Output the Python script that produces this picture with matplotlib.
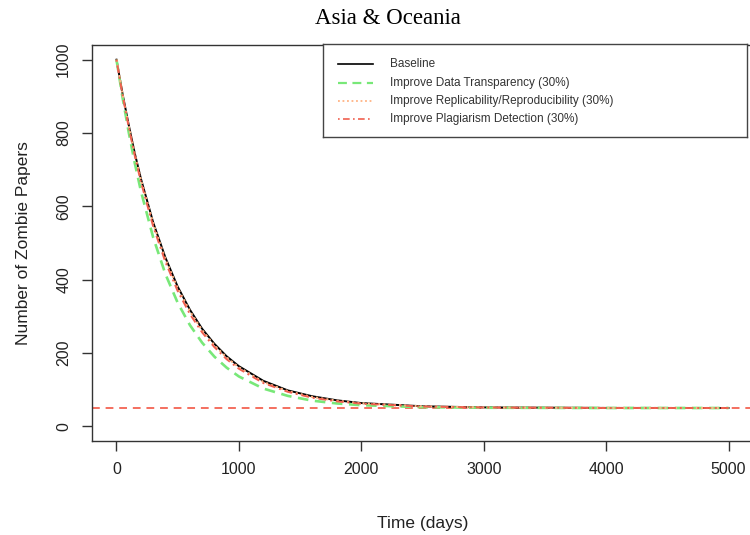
import numpy as np
import matplotlib
matplotlib.use("Agg")
import matplotlib.pyplot as plt
from matplotlib.lines import Line2D

plt.rcParams['font.family'] = ['Liberation Sans', 'DejaVu Sans']

# values (days -> zombie papers)
days = [0, 50, 100, 150, 200, 300, 400, 500, 600, 700, 800, 900, 1000,
        1200, 1400, 1600, 1800, 2000, 2500, 3000, 4000, 5000]
baseline = [1000, 906, 822, 744, 675, 556, 460, 381, 318, 266, 225, 191, 164,
            124, 98, 82, 71, 63.5, 54.7, 51.6, 50.2, 50]
transparency = [1000, 896, 802, 717, 641, 515, 415, 337, 276, 228, 190, 160, 136,
                103, 83, 70, 62.4, 57.7, 52.3, 50.7, 50, 50]
replicability = [1000, 905, 820, 742, 672, 553, 456, 377, 314, 262, 221, 188, 161,
                 121, 96, 80, 70, 63, 54.5, 51.5, 50.2, 50]
plagiarism = [1000, 903, 816, 737, 666, 545, 448, 369, 306, 256, 216, 183, 157,
              118, 94, 78, 68, 61.7, 54, 51.4, 50, 50]
equilibrium = 50

labels = ["Baseline", "Improve Data Transparency (30%)",
          "Improve Replicability/Reproducibility (30%)",
          "Improve Plagiarism Detection (30%)"]

c_black = "black"
c_green = "#78E878"
c_orange = "#FFB383"
c_red = "#F0604F"
c_hline = "#F46F5F"

W, H = 750, 535
fig = plt.figure(figsize=(7.5, 5.35), dpi=100)


def px_rect(left, top, right, bottom):
    return [left / W, (H - bottom) / H, (right - left) / W, (bottom - top) / H]


ax = fig.add_axes(px_rect(92, 45, 753, 441))

ax.plot(days, baseline, color=c_black, lw=1.4, zorder=3)
ax.plot(days, transparency, color=c_green, lw=1.9, ls=(0, (4, 2.5)), zorder=4)
ax.plot(days, replicability, color=c_orange, lw=1.5, ls=(0, (1, 1.5)), zorder=5)
ax.plot(days, plagiarism, color=c_red, lw=1.4, ls=(0, (1, 2, 4, 2)), zorder=6)
ax.axhline(equilibrium, color=c_hline, lw=1.4, ls=(0, (4, 3)), zorder=2)

ax.set_xlim(-200, 5200)
ax.set_ylim(-40, 1040)
ax.set_xticks([0, 1000, 2000, 3000, 4000, 5000])
ax.set_yticks([0, 200, 400, 600, 800, 1000])
ax.tick_params(axis='both', direction='out', length=7, width=1,
               color='#333333', labelsize=11.5, labelcolor='#222222')
ax.tick_params(axis='x', pad=8)
ax.tick_params(axis='y', pad=8)
for lab in ax.get_yticklabels():
    lab.set_rotation(90)
    lab.set_va('center')
for sp in ax.spines.values():
    sp.set_color('#333333')
    sp.set_linewidth(1)

ax.set_xlabel("Time (days)", fontsize=12.5, color='#222222', labelpad=28)
ax.set_ylabel("Number of Zombie Papers", fontsize=12.5, color='#222222', labelpad=18)

fig.text(388 / W, 1 - 18 / H, "Asia & Oceania", family='Liberation Serif',
         fontsize=16.5, ha='center', va='center', color='black')

# legend box
lax = fig.add_axes(px_rect(323, 44, 747, 137))
lax.set_xlim(0, 1)
lax.set_ylim(0, 1)
lax.set_xticks([])
lax.set_yticks([])
for sp in lax.spines.values():
    sp.set_color('#444444')
    sp.set_linewidth(1)
styles = [
    dict(color=c_black, lw=1.2, ls='-'),
    dict(color=c_green, lw=1.6, ls=(0, (4, 2.5))),
    dict(color=c_orange, lw=1.3, ls=(0, (1, 1.5))),
    dict(color=c_red, lw=1.2, ls=(0, (1, 2, 4, 2))),
]
rows = [0.785, 0.581, 0.387, 0.194]
for y, st, lab in zip(rows, styles, labels):
    lax.add_line(Line2D([0.035, 0.118], [y, y], **st))
    lax.text(0.158, y, lab, fontsize=8.5, va='center', ha='left', color='#333333')

fig.savefig("out.png", dpi=100)
